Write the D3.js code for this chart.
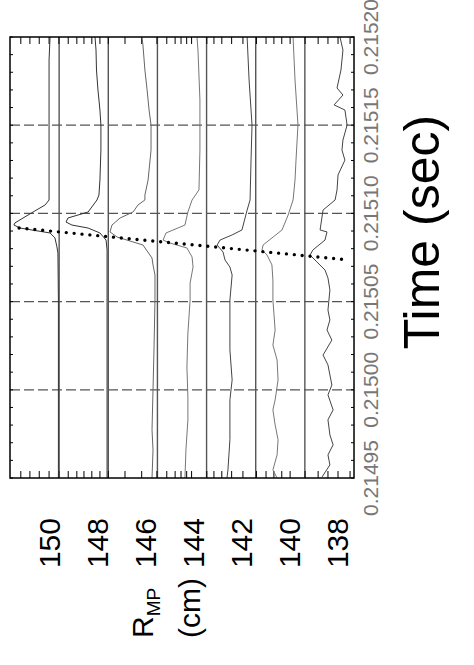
<!DOCTYPE html>
<html>
<head>
<meta charset="utf-8">
<script src="https://cdn.jsdelivr.net/npm/d3@7"></script>
<style>
  body { margin: 0; background: #fff; }
  svg { display: block; font-family: "Liberation Sans", Arial, sans-serif; }
</style>
</head>
<body>
<div class="container"><svg width="474" height="665"></svg></div>
<script>
// time labels (sec) and radius labels (cm)
var timeTicks = [0.21495, 0.21500, 0.21505, 0.21510, 0.21515, 0.21520];
var dashTimes = [0.21500, 0.21505, 0.21510, 0.21515];
var radiusTicks = [150, 148, 146, 144, 142, 140, 138];
// solid lines, one per channel
var channelR = [149.45, 147.45, 145.45, 143.45, 141.45, 139.45];
// chord positions marked on top/bottom edges
var chordR = [151.01, 150.64, 150.26, 149.86, 149.46, 149.08, 148.73, 148.44, 148.12, 147.79,
  147.45, 146.77, 146.09, 145.47, 145.07, 144.73, 144.49, 144.26, 144.06, 143.44, 143.15,
  142.83, 142.43, 141.97, 141.42, 141.03, 140.71, 140.39, 140.05, 139.44, 138.91, 138.51,
  138.10, 137.61];

// traces: [time, R]
var trace1 = [[0.2152000,149.82],[0.2151870,149.86],[0.2151643,149.86],[0.2151359,149.86],
  [0.2151076,149.86],[0.2151048,150.02],[0.2151008,150.51],[0.2150946,151.25],[0.2150934,151.29],
  [0.2150917,151.04],[0.2150889,149.82],[0.2150861,149.62],[0.2150810,149.54],[0.2150776,149.50],
  [0.2150509,149.48],[0.2149943,149.48],[0.2149500,149.48]];
var trace2 = [[0.2152000,147.99],[0.2151926,147.95],[0.2151813,147.93],[0.2151700,147.87],
  [0.2151586,147.79],[0.2151501,147.75],[0.2151359,147.75],[0.2151189,147.79],[0.2151104,147.83],
  [0.2151076,147.91],[0.2151008,148.27],[0.2150974,149.09],[0.2150951,149.17],[0.2150934,148.93],
  [0.2150917,148.27],[0.2150889,147.79],[0.2150849,147.54],[0.2150793,147.50],[0.2150509,147.50],
  [0.2149500,147.50]];
var trace3 = [[0.2152000,146.08],[0.2151955,146.04],[0.2151813,145.96],[0.2151700,145.87],
  [0.2151586,145.79],[0.2151501,145.71],[0.2151359,145.71],[0.2151189,145.83],[0.2151104,145.96],
  [0.2151076,145.96],[0.2151048,146.24],[0.2151008,146.44],[0.2150974,146.97],[0.2150934,147.30],
  [0.2150895,147.38],[0.2150866,147.09],[0.2150821,146.04],[0.2150747,145.67],[0.2150708,145.63],
  [0.2150651,145.55],[0.2150509,145.55],[0.2150226,145.59],[0.2149999,145.63],[0.2149773,145.67],
  [0.2149659,145.63],[0.2149500,145.67]];
var trace4 = [[0.2152000,143.84],[0.2151926,143.80],[0.2151643,143.72],[0.2151359,143.72],
  [0.2151133,143.76],[0.2151076,144.04],[0.2151008,144.21],[0.2150934,144.33],[0.2150889,145.10],
  [0.2150849,145.22],[0.2150832,144.94],[0.2150804,144.25],[0.2150753,144.04],[0.2150696,144.00],
  [0.2150605,144.12],[0.2150509,144.12],[0.2150322,144.21],[0.2150129,144.25],[0.2149960,144.21],
  [0.2149830,144.21],[0.2149659,144.29],[0.2149500,144.33]];
var trace5 = [[0.2152000,141.80],[0.2151756,141.72],[0.2151501,141.60],[0.2151303,141.64],
  [0.2151076,141.68],[0.2151019,141.80],[0.2150906,142.01],[0.2150878,142.41],[0.2150849,142.90],
  [0.2150821,143.02],[0.2150781,142.78],[0.2150736,142.70],[0.2150696,142.50],[0.2150651,142.41],
  [0.2150509,142.50],[0.2150226,142.50],[0.2150056,142.41],[0.2149943,142.50],[0.2149717,142.50],
  [0.2149546,142.58],[0.2149500,142.62]];
var trace6 = [[0.2152000,139.93],[0.2151756,139.85],[0.2151501,139.73],[0.2151302,139.81],
  [0.2151189,139.85],[0.2151076,139.93],[0.2150991,140.13],[0.2150906,140.38],[0.2150821,141.15],
  [0.2150793,141.19],[0.2150764,140.99],[0.2150708,140.79],[0.2150622,140.75],[0.2150509,140.75],
  [0.2150339,140.66],[0.2150254,140.75],[0.2150169,140.58],[0.2150056,140.54],[0.2149943,140.66],
  [0.2149886,140.75],[0.2149801,140.66],[0.2149717,140.54],[0.2149631,140.58],[0.2149546,140.75],
  [0.2149500,140.58]];
var trace7 = [[0.2152000,138.02],[0.2151926,137.90],[0.2151813,137.98],[0.2151711,138.14],
  [0.2151671,137.90],[0.2151615,138.26],[0.2151586,137.82],[0.2151501,137.73],[0.2151416,137.90],
  [0.2151359,137.94],[0.2151302,137.82],[0.2151218,138.10],[0.2151133,138.14],[0.2151076,138.22],
  [0.2151019,138.71],[0.2150906,138.83],[0.2150895,138.55],[0.2150849,138.63],[0.2150793,139.12],
  [0.2150764,139.24],[0.2150725,138.96],[0.2150679,138.63],[0.2150634,138.51],[0.2150566,138.43],
  [0.2150452,138.51],[0.2150396,138.43],[0.2150339,138.55],[0.2150282,138.35],[0.2150197,138.71],
  [0.2150141,138.51],[0.2150084,138.43],[0.2150027,138.35],[0.2149971,138.51],[0.2149886,138.30],
  [0.2149830,138.51],[0.2149744,138.43],[0.2149688,138.30],[0.2149631,138.51],[0.2149574,138.43],
  [0.2149506,138.75]];
var traceColors = ["#333", "#333", "#666", "#777", "#444", "#777", "#444"];

// dotted front line: [time, R] end points
var front = [[0.2150917, 151.08], [0.2150736, 137.65]];

function draw_chart() {
    var svg = d3.select(".container").select("svg");
    var left = 10, right = 354, top = 37, bottom = 478;

    var x = d3.scaleLinear().domain([151.45, 137.45]).range([left, right]);
    var y = d3.scaleLinear().domain([0.21495, 0.21520]).range([bottom, top]);

    svg.append("rect").attr("width", 474).attr("height", 665).attr("fill", "#fff");

    // dashed time lines
    svg.append("g").selectAll("line")
        .data(dashTimes)
        .enter().append("line")
        .attr("x1", left).attr("x2", right)
        .attr("y1", function (d) { return y(d); })
        .attr("y2", function (d) { return y(d); })
        .attr("stroke", "#555")
        .attr("stroke-width", 1.2)
        .attr("stroke-dasharray", "10,4");

    // channel lines
    svg.append("g").selectAll("line")
        .data(channelR)
        .enter().append("line")
        .attr("x1", function (d) { return x(d); })
        .attr("x2", function (d) { return x(d); })
        .attr("y1", top).attr("y2", bottom)
        .attr("stroke", "#555")
        .attr("stroke-width", 1.4);

    // small time ticks on left and right edges
    var minor = y.ticks(25);
    var tickG = svg.append("g").attr("stroke", "#000").attr("stroke-width", 1);
    minor.forEach(function (t) {
        tickG.append("line").attr("x1", left).attr("x2", left + 3)
            .attr("y1", y(t)).attr("y2", y(t));
        tickG.append("line").attr("x1", right - 3).attr("x2", right)
            .attr("y1", y(t)).attr("y2", y(t));
    });

    // chord marks on top and bottom edges
    chordR.forEach(function (r) {
        tickG.append("line").attr("x1", x(r)).attr("x2", x(r))
            .attr("y1", top).attr("y2", top + 7);
        tickG.append("line").attr("x1", x(r)).attr("x2", x(r))
            .attr("y1", bottom - 7).attr("y2", bottom);
    });

    // traces
    var line = d3.line()
        .x(function (d) { return x(d[1]); })
        .y(function (d) { return y(d[0]); });
    var traces = [trace1, trace2, trace3, trace4, trace5, trace6, trace7];
    svg.append("g").selectAll("path")
        .data(traces)
        .enter().append("path")
        .attr("d", line)
        .attr("fill", "none")
        .attr("stroke", function (d, i) { return traceColors[i]; })
        .attr("stroke-width", 1);

    // dotted front
    svg.append("path")
        .datum(front)
        .attr("d", line)
        .attr("fill", "none")
        .attr("stroke", "#000")
        .attr("stroke-width", 3.4)
        .attr("stroke-linecap", "round")
        .attr("stroke-dasharray", "0,7.9");

    // frame
    svg.append("rect")
        .attr("x", left).attr("y", top)
        .attr("width", right - left).attr("height", bottom - top)
        .attr("fill", "none").attr("stroke", "#000").attr("stroke-width", 1.5);

    // time labels (rotated)
    var fmt = d3.format(".5f");
    svg.append("g").selectAll("text")
        .data(timeTicks)
        .enter().append("text")
        .attr("transform", function (d) { return "translate(370," + y(d) + ") rotate(-90)"; })
        .attr("text-anchor", "middle")
        .attr("dy", "0.36em")
        .attr("font-size", 21)
        .attr("fill", "#777")
        .text(fmt);

    svg.append("text")
        .attr("transform", "translate(421,232) rotate(-90)")
        .attr("text-anchor", "middle")
        .attr("dy", "0.36em")
        .attr("font-size", 50)
        .attr("fill", "#000")
        .text("Time (sec)");

    // radius labels (rotated)
    var labX = d3.scaleLinear().domain([150, 138]).range([49, 337]);
    svg.append("g").selectAll("text")
        .data(radiusTicks)
        .enter().append("text")
        .attr("transform", function (d) { return "translate(" + labX(d) + ",518) rotate(-90)"; })
        .attr("text-anchor", "end")
        .attr("dy", "0.36em")
        .attr("font-size", 30)
        .attr("fill", "#000")
        .text(function (d) { return d; });

    var rl = svg.append("text")
        .attr("transform", "translate(153,638) rotate(-90)")
        .attr("font-size", 30)
        .attr("fill", "#000");
    rl.append("tspan").text("R");
    rl.append("tspan").attr("font-size", 19).attr("dy", 7).text("MP");

    svg.append("text")
        .attr("transform", "translate(200,638) rotate(-90)")
        .attr("font-size", 30)
        .attr("fill", "#000")
        .text("(cm)");
}

draw_chart();
</script>
</body>
</html>
